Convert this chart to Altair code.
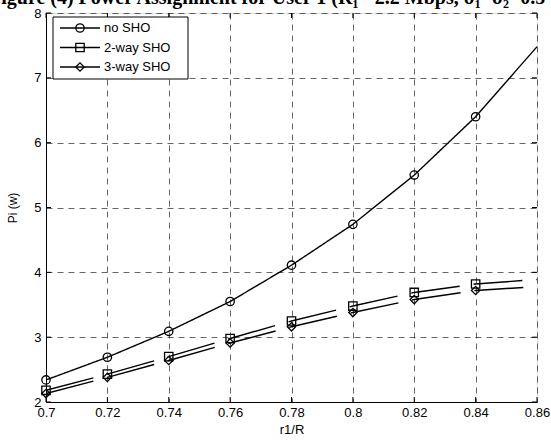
import altair as alt
import pandas as pd

# ---- data ----
x_vals = [0.70, 0.72, 0.74, 0.76, 0.78, 0.80, 0.82, 0.84, 0.86]
no_sho = [2.34, 2.69, 3.09, 3.55, 4.11, 4.74, 5.50, 6.40, 7.48]
two_way = [2.18, 2.43, 2.70, 2.98, 3.25, 3.48, 3.69, 3.82, 3.89]
three_way = [2.13, 2.38, 2.64, 2.91, 3.16, 3.38, 3.58, 3.72, 3.78]
has_marker = [True, True, True, True, True, True, True, True, False]
series_names = ["no SHO", "2-way SHO", "3-way SHO"]
x_ticks = [0.70, 0.72, 0.74, 0.76, 0.78, 0.80, 0.82, 0.84, 0.86]
y_ticks = [2, 3, 4, 5, 6, 7, 8]
title_text = "Figure (4) Power Assignment for User 1 (R\u2081 =2.2 Mbps, \u03c3\u2081=\u03c3\u2082=0.5 W)"

rows = []
for name, vals in zip(series_names, [no_sho, two_way, three_way]):
    for i, (x, v) in enumerate(zip(x_vals, vals)):
        rows.append({"x": x, "y": v, "series": name, "marker": has_marker[i], "order": i})
df = pd.DataFrame(rows)

W, H = 491, 389
FONT = "Liberation Sans"

xscale = alt.Scale(domain=[0.70, 0.86], nice=False, zero=False)
yscale = alt.Scale(domain=[2, 8], nice=False, zero=False)
shape_scale = alt.Scale(domain=series_names, range=["circle", "square", "diamond"])
dash_scale = alt.Scale(domain=series_names, range=[[1, 0], [49, 14], [49, 14]])

base = alt.Chart(df)

lines = base.mark_line(color="black", strokeWidth=1.4, clip=True).encode(
    x=alt.X("x:Q", scale=xscale,
            axis=alt.Axis(values=x_ticks, format=".2~f", title="r1/R", grid=True,
                          gridDash=[6, 5], gridColor="#222", gridWidth=0.7,
                          ticks=False, domainColor="black", labelColor="black",
                          labelFont=FONT, labelFontSize=13, labelPadding=4,
                          labelFlush=False, labelOverlap=False,
                          titleFont=FONT, titleFontSize=13, titleFontWeight="normal",
                          titleColor="black", titlePadding=4)),
    y=alt.Y("y:Q", scale=yscale,
            axis=alt.Axis(values=y_ticks, format="d", title="Pi (w)", grid=True,
                          gridDash=[6, 5], gridColor="#222", gridWidth=0.7,
                          ticks=False, domainColor="black", labelColor="black",
                          labelFont=FONT, labelFontSize=13, labelPadding=5,
                          labelFlush=False, labelOverlap=False,
                          titleFont=FONT, titleFontSize=12, titleFontWeight="normal",
                          titleColor="black", titlePadding=14)),
    detail="series:N",
    order="order:Q",
    strokeDash=alt.StrokeDash("series:N", scale=dash_scale, legend=None),
)

points = base.transform_filter(alt.datum.marker).mark_point(
    filled=False, color="black", strokeWidth=1.3, size=70, opacity=1
).encode(
    x=alt.X("x:Q", scale=xscale),
    y=alt.Y("y:Q", scale=yscale),
    shape=alt.Shape("series:N", scale=shape_scale, legend=None),
)

# inward ticks (MATLAB style)
xt = pd.DataFrame({"v": x_ticks})
yt = pd.DataFrame({"v": y_ticks})
tb = alt.Chart(xt).mark_rule(color="black", strokeWidth=1).encode(
    x=alt.X("v:Q", scale=xscale), y=alt.value(H), y2=alt.value(H - 5))
tt = alt.Chart(xt).mark_rule(color="black", strokeWidth=1).encode(
    x=alt.X("v:Q", scale=xscale), y=alt.value(0), y2=alt.value(5))
tl = alt.Chart(yt).mark_rule(color="black", strokeWidth=1).encode(
    y=alt.Y("v:Q", scale=yscale), x=alt.value(0), x2=alt.value(5))
tr = alt.Chart(yt).mark_rule(color="black", strokeWidth=1).encode(
    y=alt.Y("v:Q", scale=yscale), x=alt.value(W), x2=alt.value(W - 5))

# legend box built from marks
leg = pd.DataFrame({"series": series_names, "row": [0, 1, 2]})
box = alt.Chart(pd.DataFrame({"a": [0]})).mark_rect(
    fill="white", stroke="black", strokeWidth=1
).encode(x=alt.value(7), x2=alt.value(142), y=alt.value(4), y2=alt.value(66))
leg_base = alt.Chart(leg).transform_calculate(py="15 + datum.row * 19.5")
leg_line = leg_base.mark_rule(color="black", strokeWidth=1.4).encode(
    x=alt.value(14), x2=alt.value(54), y=alt.Y("py:Q", scale=None))
leg_pt = leg_base.mark_point(filled=False, color="black", strokeWidth=1.3, size=70, opacity=1).encode(
    x=alt.value(34), y=alt.Y("py:Q", scale=None),
    shape=alt.Shape("series:N", scale=shape_scale, legend=None))
leg_txt = leg_base.mark_text(align="left", baseline="middle", font=FONT, fontSize=13, color="black").encode(
    x=alt.value(58), y=alt.Y("py:Q", scale=None), text="series:N")

title = alt.Chart(pd.DataFrame({"t": [title_text]})).mark_text(
    align="left", baseline="alphabetic", font="Liberation Serif", fontSize=20,
    fontWeight="bold", color="black"
).encode(x=alt.value(-57), y=alt.value(-9), text="t:N")

chart = alt.layer(
    lines, points, tb, tt, tl, tr, box, leg_line, leg_pt, leg_txt, title
).properties(
    width=W, height=H,
    autosize=alt.AutoSizeParams(type="none"),
    padding={"left": 46, "top": 13, "right": 14, "bottom": 39},
).configure_view(stroke="black", strokeWidth=1).configure(background="white")

chart.save("out.html", embed_options={"renderer": "svg", "actions": False})
